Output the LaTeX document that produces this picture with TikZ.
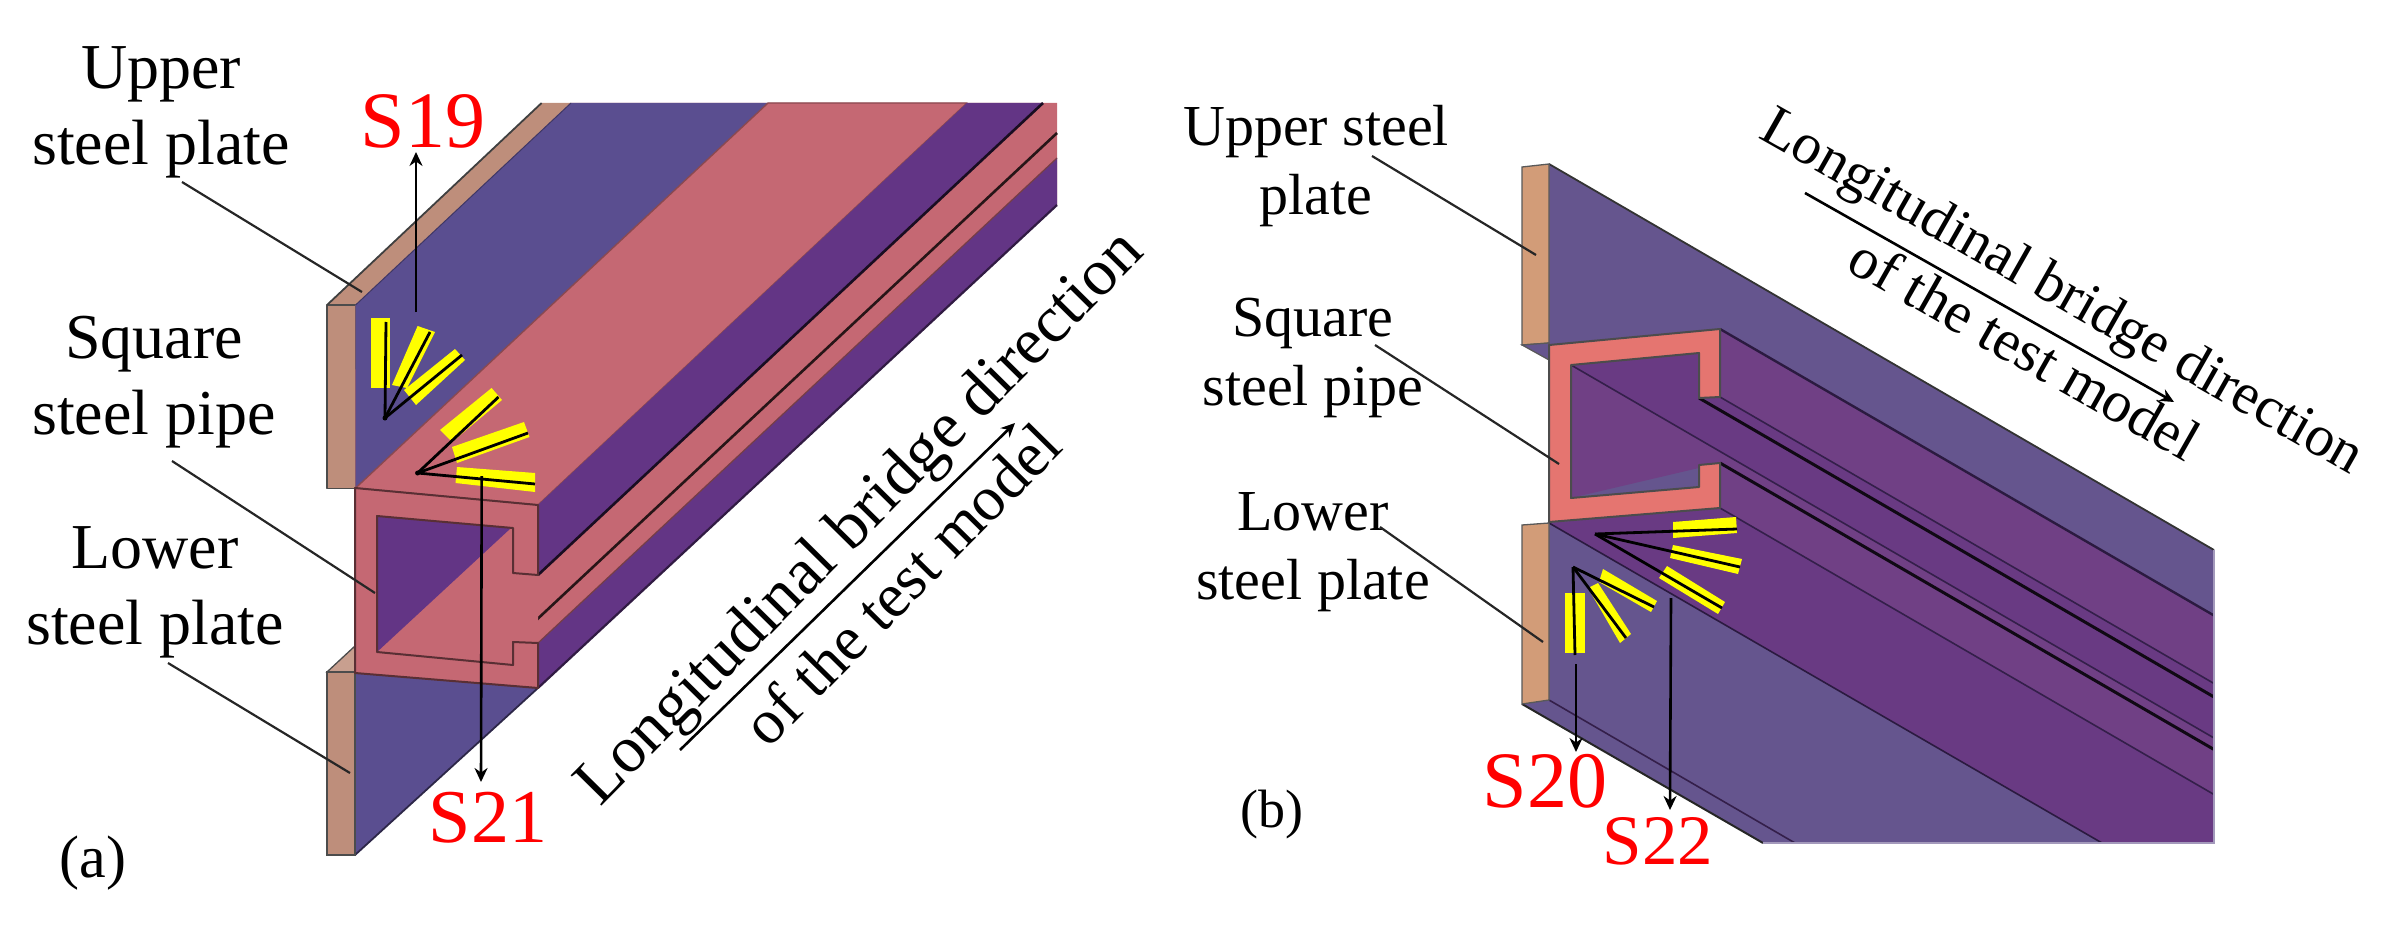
\documentclass[tikz,border=0pt]{standalone}
\usepackage{fontspec}
\setmainfont{Liberation Serif}
\usetikzlibrary{arrows.meta}
\definecolor{plateA}{HTML}{BE8E7B}
\definecolor{blueA}{HTML}{5A4E90}
\definecolor{pinkA}{HTML}{C56873}
\definecolor{purpA}{HTML}{633585}
\definecolor{plateB}{HTML}{D29C78}
\definecolor{blueB}{HTML}{65558E}
\definecolor{pinkB}{HTML}{E57570}
\definecolor{purpB}{HTML}{693A83}
\definecolor{purpC}{HTML}{704085}
\definecolor{edgeC}{HTML}{2B1A40}
\definecolor{gauge}{HTML}{FFFF00}
\definecolor{tagred}{HTML}{FF0000}
\tikzset{
  x=1pt,y=-1pt,
  face/.style={draw=edgeC,line width=1.3pt,line join=round},
  softface/.style={line width=2pt,line join=round},
  bar/.style={fill=gauge,draw=none},
  wire/.style={draw=black,line width=2.8pt},
  thin line/.style={draw=edgeC!85!purpB,line width=1.6pt},
  leader/.style={draw=black!85,line width=2.2pt},
  arrowline/.style={draw=black,line width=2.6pt,-{Stealth[length=14pt,width=13pt]}},
  lab/.style={inner sep=0pt,align=center,text=black},
  labA/.style={lab,font=\fontsize{64}{76}\selectfont},
  labB/.style={lab,font=\fontsize{58}{68.5}\selectfont},
  longA/.style={inner sep=0pt,anchor=base,rotate=45.4},
  longB/.style={inner sep=0pt,anchor=base,rotate=-29.6},
  tag/.style={inner sep=0pt,anchor=base,text=tagred},
}
\begin{document}
\begin{tikzpicture}
\useasboundingbox (0,0) rectangle (2384,928);
% ---------- (a) ----------
\fill[plateA] (327,305) -- (541.6,103) -- (571,103) -- (355.6,305) -- cycle;
\draw[face,fill=plateA,draw=black!70] (327,305) -- (355.6,305) -- (355.6,488.5) -- (327,488.5) -- cycle;
\draw[draw=black!75,line width=1.8pt] (327,305) -- (541.6,103);
% base under the faces, so that no seam shows between them
\fill[pinkA] (355.6,305) -- (571,103) -- (1057,103) -- (1057,205) -- (538,688) -- (355,673) -- cycle;
\fill[blueA] (355.6,305) -- (571,103) -- (768,103) -- (355.6,488) -- cycle;
\draw[draw=blueA!70!black,line width=1pt] (355.6,305) -- (571,103);
\draw[softface,line width=1.4pt,fill=pinkA,draw=pinkA!70!black] (355.6,488) -- (768,103) -- (967,103) -- (538,505) -- cycle;
\fill[purpA] (538,505) -- (967,103) -- (1043,103) -- (538,575) -- cycle;
\fill[purpA] (538,643) -- (1057,158) -- (1057,205) -- (538,688) -- cycle;
\draw[draw=black!75!purpA,line width=2.6pt] (538,575) -- (1043,103);
\draw[draw=black!80!pinkA,line width=2.6pt] (515,640) -- (1057,133);
\draw[draw=pinkA!60!black,line width=1.2pt] (538,643) -- (1057,158);
\draw[draw=purpA!50!black,line width=2.2pt] (538,688) -- (1057,205);
% lower plate
\fill[blueA] (355,673) -- (538,688) -- (355,855) -- cycle;
\draw[draw=blueA!50!black,line width=1.8pt] (538,688) -- (355,855);
\draw[draw=black!70,fill=plateA!85!white,line width=1.3pt] (327,672) -- (355,646) -- (355,672) -- cycle;
\draw[draw=black!70,fill=plateA,line width=1.3pt] (327,672) -- (355,672) -- (355,855) -- (327,855) -- cycle;
% pipe section
\fill[pinkA] (377,516) -- (513,528) -- (513,573) -- (538,575) -- (538,643) -- (513,642) -- (513,665) -- (377,652) -- cycle;
\fill[purpA] (377,516) -- (511,528) -- (377,652) -- cycle;
\draw[softface,fill=pinkA,draw=pinkA!45!black] (355,488) -- (538,505) -- (538,575) -- (513,573) -- (513,528) -- (377,516) -- (377,652) -- (513,665) -- (513,642) -- (538,643) -- (538,688) -- (355,673) -- cycle;
% gauges (a)
\fill[bar] (371,318) -- (390,318) -- (390,388) -- (371,388) -- cycle;
\fill[bar] (417.6,326) -- (435,332) -- (407,388) -- (392,385) -- cycle;
\fill[bar] (455,349) -- (465,360) -- (416,405) -- (404,390) -- cycle;
\fill[bar] (491.6,388) -- (502,400) -- (452,442) -- (440,430) -- cycle;
\fill[bar] (524,422) -- (529.5,437) -- (457,463) -- (452,447) -- cycle;
\fill[bar] (457,467) -- (535,473) -- (535,492) -- (455.5,483) -- cycle;
\coordinate (oa1) at (385,418);
\coordinate (ea1) at (386,322);
\coordinate (ea2) at (430,332);
\coordinate (ea3) at (462,355);
\coordinate (oa2) at (417.6,473);
\coordinate (ea4) at (498.5,397);
\coordinate (ea5) at (528,433);
\coordinate (ea6) at (535,484);
\foreach \e in {ea1,ea2,ea3}{\draw[wire] (oa1) -- (\e);}
\foreach \e in {ea4,ea5,ea6}{\draw[wire] (oa2) -- (\e);}
\fill[black] (oa1) circle (2.5pt) (oa2) circle (2.5pt);
\node[tag,font=\fontsize{80}{80}\selectfont] (s19) at (423,148) {S19};
\node[tag,font=\fontsize{76}{76}\selectfont] (s21) at (488,842) {S21};
\coordinate (a19) at (416,312);
\coordinate (b19) at (416,152);
\draw[arrowline] (a19) -- (b19);
\coordinate (a21) at (481.7,476);
\coordinate (b21) at (481,782);
\draw[arrowline] (a21) -- (b21);
% labels (a)
\node[labA] (upA) at (161,112.5) {Upper\\steel plate};
\node[labA] (sqA) at (154,382) {Square\\steel pipe};
\node[labA] (loA) at (155,592) {Lower\\steel plate};
\coordinate (u1) at (182,182);\coordinate (u2) at (362,292);
\coordinate (q1) at (172,461);\coordinate (q2) at (375,593);
\coordinate (l1) at (168,663);\coordinate (l2) at (350,773);
\draw[leader] (u1) -- (u2);
\draw[leader] (q1) -- (q2);
\draw[leader] (l1) -- (l2);
\node[longA,font=\fontsize{66}{66}\selectfont] (ttA) at (873,531) {Longitudinal bridge direction};
\node[longA,font=\fontsize{63}{63}\selectfont] (ttB) at (917,599) {of the test model};
\coordinate (ar1) at (680,750);\coordinate (ar2) at (1015,423);
\draw[arrowline] (ar1) -- (ar2);
\node[inner sep=0pt,anchor=base,font=\fontsize{60}{60}\selectfont] (capa) at (93,877) {(a)};
% ---------- (b) ----------
\fill[blueB] (1549,164) -- (2214,550) -- (2214,843) -- (1763,843) -- (1522,704) -- (1549,700) -- cycle;
\draw[draw=black!80,line width=1.8pt] (1549,164) -- (2214,550);
\fill[purpB] (1720,329) -- (2214,615.5) -- (2214,843) -- (2102,843) -- (1549,523) -- (1720,508) -- (1699,353) -- cycle;
\fill[purpC] (1720,329) -- (2214,615.5) -- (2214,683.5) -- (1720,397) -- cycle;
\fill[purpC] (1571,365) -- (2214,738) -- (2214,749.5) -- (1720,463) -- (1571,498) -- cycle;
\fill[purpC] (1720,463) -- (2214,749.5) -- (2214,794.5) -- (1720,508) -- cycle;
\fill[purpB] (1571,365) -- (1699,353) -- (1699,398) -- (2214,697) -- (2214,738) -- cycle;
\draw[draw=edgeC,line width=2.4pt] (1720,329) -- (2214,615.5);
\draw[thin line] (1720,397) -- (2214,683.5);
\draw[draw=black!85!purpB,line width=3pt] (1699,398) -- (2214,697);
\draw[thin line] (1571,365) -- (2214,738);
\draw[draw=black!85!purpB,line width=3pt] (1720,463) -- (2214,749.5);
\draw[thin line] (1720,508) -- (2214,794.5);
\draw[draw=edgeC,line width=1.6pt] (1549,523) -- (2102,843);
\draw[thin line] (1549,700) -- (1795,843);
\draw[draw=black!85,line width=2pt] (1522,704) -- (1763,843);
\draw[draw=blueB!60!white,line width=1.2pt] (1763,843) -- (2214,843) -- (2214,550);
% plates
\draw[draw=black!65,fill=plateB,line width=1.3pt] (1522,167) -- (1549,164) -- (1549,343) -- (1522,345) -- cycle;
\draw[draw=black!65,fill=blueB,line width=1.2pt] (1522,345) -- (1549,360) -- (1549,343) -- cycle;
\draw[draw=black!65,fill=plateB,line width=1.3pt] (1522,525) -- (1549,523) -- (1549,700) -- (1522,704) -- cycle;
% pipe
\draw[softface,fill=pinkB,draw=black!70] (1549,345) -- (1720,329) -- (1720,397) -- (1699,398) -- (1699,353) -- (1571,365) -- (1571,498) -- (1699,487) -- (1699,465) -- (1720,463) -- (1720,508) -- (1549,522) -- cycle;
% gauges (b)
\fill[bar] (1673,522) -- (1736,517) -- (1737,533) -- (1673,538) -- cycle;
\fill[bar] (1673,545) -- (1742,559) -- (1738,574) -- (1670,558) -- cycle;
\fill[bar] (1667,566) -- (1725,602) -- (1718,614) -- (1659,578) -- cycle;
\fill[bar] (1565,593) -- (1585,593) -- (1585,653) -- (1565,653) -- cycle;
\fill[bar] (1588,588) -- (1598,583) -- (1631,634) -- (1620,643) -- cycle;
\fill[bar] (1603,569) -- (1657,601) -- (1651,612) -- (1599,582) -- cycle;
\coordinate (ob1) at (1595,534);
\coordinate (eb1) at (1737,529);
\coordinate (eb2) at (1740,567);
\coordinate (eb3) at (1722,608);
\coordinate (ob2) at (1573,567);
\coordinate (eb4) at (1575,655);
\coordinate (eb5) at (1626,638);
\coordinate (eb6) at (1654,607);
\foreach \e in {eb1,eb2,eb3}{\draw[wire] (ob1) -- (\e);}
\foreach \e in {eb4,eb5,eb6}{\draw[wire] (ob2) -- (\e);}
\node[tag,font=\fontsize{80}{80}\selectfont] (s20) at (1545,807) {S20};
\node[tag,font=\fontsize{71}{71}\selectfont] (s22) at (1658,864) {S22};
\coordinate (a20) at (1576,664);\coordinate (b20) at (1576,752);
\coordinate (a22) at (1671,598);\coordinate (b22) at (1670,810);
\draw[arrowline] (a20) -- (b20);
\draw[arrowline] (a22) -- (b22);
% labels (b)
\node[labB] (upB) at (1316,166) {Upper steel\\plate};
\node[labB] (sqB) at (1313,358) {Square\\steel pipe};
\node[labB] (loB) at (1313,552) {Lower\\steel plate};
\coordinate (u3) at (1372,156);\coordinate (u4) at (1536,255);
\coordinate (q3) at (1375,345);\coordinate (q4) at (1559,464);
\coordinate (l3) at (1380,527);\coordinate (l4) at (1543,642);
\draw[leader] (u3) -- (u4);
\draw[leader] (q3) -- (q4);
\draw[leader] (l3) -- (l4);
\node[longB,font=\fontsize{58}{58}\selectfont] (ttC) at (2054,306) {Longitudinal bridge direction};
\node[longB,font=\fontsize{58.5}{58.5}\selectfont] (ttD) at (2015,366) {of the test model};
\coordinate (ar3) at (1805,193);\coordinate (ar4) at (2174,402);
\draw[arrowline] (ar3) -- (ar4);
\node[inner sep=0pt,anchor=base,font=\fontsize{54}{54}\selectfont] (capb) at (1272,827) {(b)};
\end{tikzpicture}
\end{document}
